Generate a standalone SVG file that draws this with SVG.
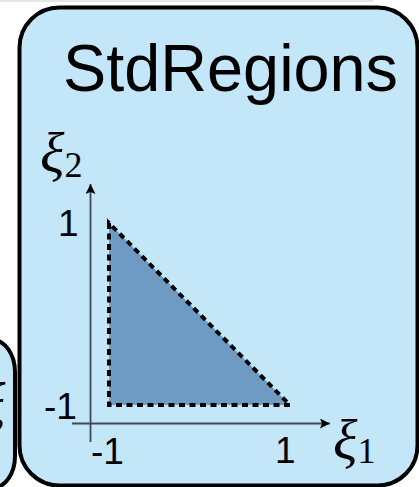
<svg xmlns="http://www.w3.org/2000/svg" width="419" height="487" viewBox="0 0 419 487">
<style>
.box{fill:#c3e6f8;stroke:#000;stroke-width:4}
.axis{stroke:#404a55;stroke-width:1.8;fill:none}
.sans{font-family:"Liberation Sans","DejaVu Sans",sans-serif;fill:#000}
.serif{font-family:"Liberation Serif","DejaVu Serif",serif;fill:#000}
</style>
<defs>
<marker id="arr" viewBox="0 0 10 10" refX="10" refY="5" markerWidth="10" markerHeight="10" markerUnits="userSpaceOnUse" orient="auto">
<path d="M0,0 L10,5 L0,10 L2,5 Z" fill="#000"/>
</marker>
</defs>
<rect x="0" y="0" width="373" height="2" fill="#e6e6e6"/>
<g id="left-node">
<rect class="box" x="-30" y="340" width="45" height="148" rx="32"/>
<text class="serif" x="-19" y="422" font-size="57" font-style="italic">ξ</text>
</g>
<g id="stdregions">
<rect class="box" x="19.5" y="7.5" width="398" height="478" rx="40"/>
<text class="sans" x="63" y="91" font-size="66" textLength="335" lengthAdjust="spacingAndGlyphs">StdRegions</text>
<polygon points="109,223 109,405 290,405" fill="#6d9bc4" stroke="#000" stroke-width="4" stroke-dasharray="6,4.5"/>
<text class="sans" x="58" y="236" font-size="37">1</text>
<text class="sans" x="44" y="419" font-size="37">-1</text>
<text class="sans" x="91" y="464" font-size="37">-1</text>
<text class="sans" x="275" y="463" font-size="37">1</text>
<text class="serif" x="40" y="172" font-size="57" font-style="italic">ξ<tspan font-style="normal" font-size="36" dy="5">2</tspan></text>
<text class="serif" x="333" y="459" font-size="57" font-style="italic">ξ<tspan font-style="normal" font-size="36" dy="4">1</tspan></text>
</g>
<g id="connectors">
<line class="axis" x1="90.5" y1="442" x2="90.5" y2="184" marker-end="url(#arr)"/>
<line class="axis" x1="72" y1="423.5" x2="330" y2="423.5" marker-end="url(#arr)"/>
</g>
</svg>
